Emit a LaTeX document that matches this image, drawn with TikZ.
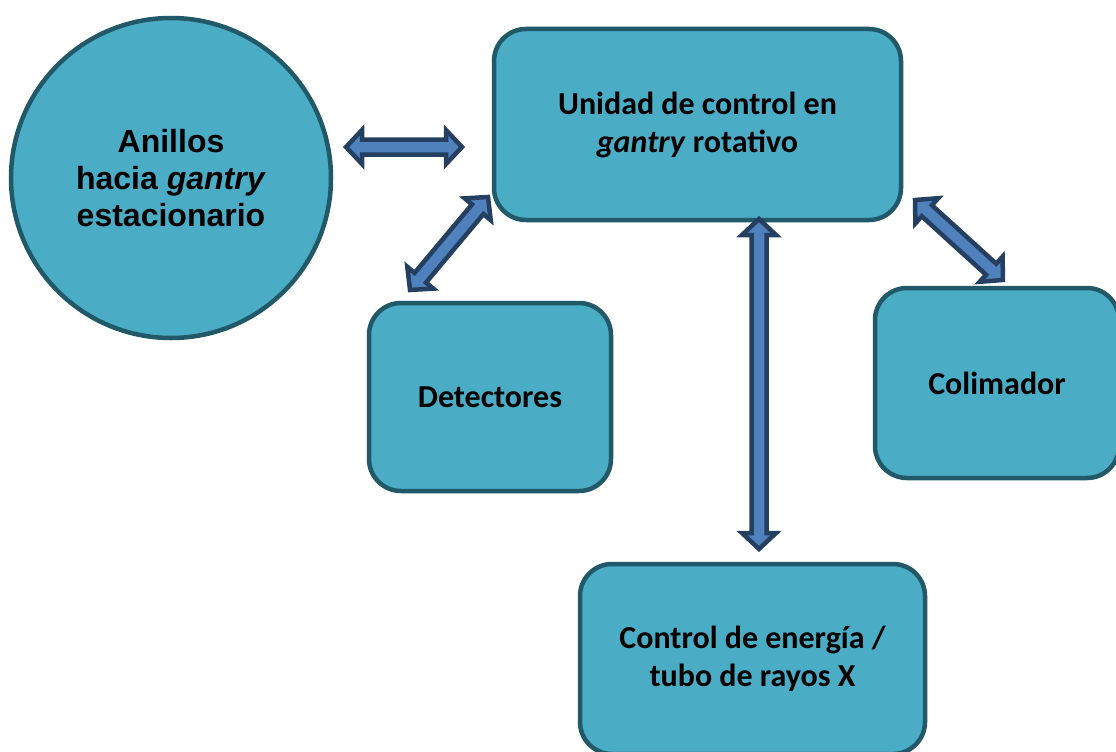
\documentclass[tikz,border=0pt]{standalone}
\usepackage{fontspec}
\setmainfont{Carlito}
\newfontfamily\ringfont{Liberation Sans}
\usetikzlibrary{calc}

\definecolor{boxfill}{HTML}{4BACC6}
\definecolor{boxline}{HTML}{215968}
\definecolor{arrowfill}{HTML}{4F81BD}
\definecolor{arrowline}{HTML}{243F60}

% double-headed block arrow between two named points (tip to tip)
\newcommand\blockarrow[2]{%
  \filldraw[arrowbody] let \p1=(#1), \p2=(#2),
    \n1={atan2(\y2-\y1,\x2-\x1)}, \n2={veclen(\x2-\x1,\y2-\y1)} in
    {[shift={(\p1)}, rotate=\n1]
     (0,0) -- (16,17) -- (16,7.5) -- (\n2-16,7.5) -- (\n2-16,17) -- (\n2,0)
     -- (\n2-16,-17) -- (\n2-16,-7.5) -- (16,-7.5) -- (16,-17) -- cycle};
}

\tikzset{
  unit/.style={draw=boxline, fill=boxfill, line width=4.5pt, rounded corners=32pt,
    align=center, font=\bfseries\fontsize{32}{38}\selectfont, inner sep=0pt},
  ring/.style={circle, draw=boxline, fill=boxfill, line width=4.5pt, align=center,
    font=\ringfont\bfseries\fontsize{32}{37}\selectfont, inner sep=0pt},
  arrowbody/.style={draw=arrowline, fill=arrowfill, line width=4.5pt, line join=miter},
}

\begin{document}
\begin{tikzpicture}[x=1pt, y=-1pt]
  \useasboundingbox (0,0) rectangle (1116,752);
  \clip (0,0) rectangle (1116,752);

  \node[ring, minimum size=320pt] (rings) at (171,178)
    {Anillos\\hacia \textit{gantry}\\estacionario};

  \node[unit, minimum width=407pt, minimum height=191pt] (ctrl) at (697.5,124.5)
    {Unidad de control en\\\textit{gantry} rotativo};

  \node[unit, minimum width=242pt, minimum height=188pt] (det) at (490,397)
    {Detectores};

  \node[unit, minimum width=244pt, minimum height=190pt] (col) at (997,383)
    {Colimador};

  \node[unit, minimum width=345pt, minimum height=190pt] (xray) at (752.5,659)
    {Control de energía /\\tubo de rayos X};

  % arrow tips
  \coordinate (rA) at (346,147);
  \coordinate (rB) at (462,147);
  \coordinate (dA) at (488,197);
  \coordinate (dB) at (410,290);
  \coordinate (xA) at (759,219);
  \coordinate (xB) at (759,549);
  \coordinate (cA) at (915,200);
  \coordinate (cB) at (1003,280);

  \blockarrow{rA}{rB}
  \blockarrow{dA}{dB}
  \blockarrow{xA}{xB}
  \blockarrow{cA}{cB}
\end{tikzpicture}
\end{document}
